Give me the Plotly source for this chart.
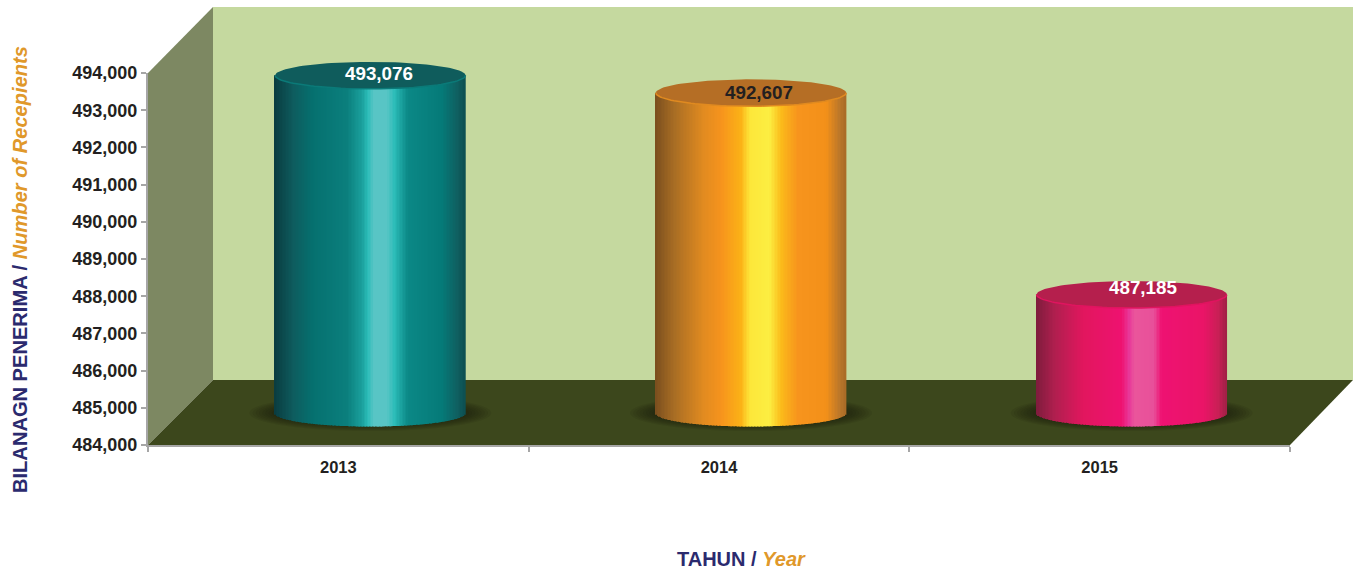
import math
import plotly.graph_objects as go

# ---- data ----
years = ["2013", "2014", "2015"]
recipients = [493076, 492607, 487185]
y_ticks = [484000, 485000, 486000, 487000, 488000, 489000, 490000, 491000, 492000, 493000, 494000]

# ---- styling ----
teal_stops = [(0, "#0a3c40"), (.1, "#0e5c5e"), (.2, "#05706f"), (.38, "#0b7f7d"), (.46, "#1a9f9c"), (.49, "#2bbcb8"),
              (.52, "#58c5c5"), (.59, "#58c5c5"), (.63, "#2bbcb8"), (.7, "#0b8886"), (.88, "#057a78"), (.96, "#0f5f60"), (1, "#0d5052")]
orange_stops = [(0, "#7a4e1e"), (.1, "#a86d24"), (.25, "#e08a20"), (.35, "#f7941d"), (.45, "#fbb216"), (.5, "#fde73a"),
                (.6, "#fcee42"), (.66, "#fbbb1a"), (.75, "#f7941d"), (.9, "#f39019"), (.97, "#b9762a"), (1, "#a96a26")]
pink_stops = [(0, "#7d1c3c"), (.1, "#b01f4f"), (.25, "#e2165e"), (.45, "#ee1270"), (.49, "#e8389a"), (.52, "#ea559b"),
              (.62, "#e8509a"), (.66, "#ee1272"), (.88, "#ea1467"), (.96, "#c81f55"), (1, "#a02045")]
body_stops = [teal_stops, orange_stops, pink_stops]
top_fill = ["#0f5c5c", "#b56e25", "#b51f4d"]
top_rim = ["#0b7a78", "#e08a20", "#e0145f"]
label_colors = ["#ffffff", "#231f20", "#ffffff"]
label_shift = [(9, 2), (8, 0), (11, 7)]

W, H = 1353, 570
X0, X1 = 148, 1290      # front plane, pixels
Y_BOTTOM, Y_TOP = 445, 73
DEPTH_BACK = 65
SHIFT = 32              # the cylinders stand half way into the floor
Y_MIN, Y_MAX = y_ticks[0], y_ticks[-1]
PX_PER_UNIT = (Y_BOTTOM - Y_TOP) / (Y_MAX - Y_MIN)
PX_PER_CAT = (X1 - X0) / 3
PAD = 1000              # hidden extra range of the shifted axis


def px(x):
    return x / W


def py(y):
    return 1 - y / H


def hex_rgb(c):
    return tuple(int(c[i:i + 2], 16) for i in (1, 3, 5))


def blend(stops, t):
    for (a, ca), (b, cb) in zip(stops, stops[1:]):
        if a <= t <= b:
            f = (t - a) / (b - a)
            ra, rb = hex_rgb(ca), hex_rgb(cb)
            return "rgb(%d,%d,%d)" % tuple(round(u + (v - u) * f) for u, v in zip(ra, rb))
    return stops[-1][1]


def poly(points, color):
    path = "M " + " L ".join(f"{px(x):.5f} {py(y):.5f}" for x, y in points) + " Z"
    return dict(type="path", xref="paper", yref="paper", path=path, fillcolor=color,
                line=dict(width=0), layer="below")


hw = 95.2 / PX_PER_CAT      # half width of a cylinder, category units
ry = 13.5 / PX_PER_UNIT     # half height of its ellipse, value units
N = 130

shapes = [
    poly([(X0, Y_TOP), (X0 + DEPTH_BACK, Y_TOP - 66), (X0 + DEPTH_BACK, Y_BOTTOM - DEPTH_BACK), (X0, Y_BOTTOM)], "#7d8862"),
    poly([(X0 + DEPTH_BACK, Y_TOP - 66), (W, Y_TOP - 66), (W, Y_BOTTOM - DEPTH_BACK), (X0 + DEPTH_BACK, Y_BOTTOM - DEPTH_BACK)], "#c5d99f"),
    poly([(X0, Y_BOTTOM), (X0 + DEPTH_BACK, Y_BOTTOM - DEPTH_BACK), (W, Y_BOTTOM - DEPTH_BACK), (X1, Y_BOTTOM)], "#3c471c"),
]
# soft shadows on the floor
for i in range(3):
    for k in range(9):
        sx = (121 - k * 3.2) / PX_PER_CAT
        sy = (18 - k * 0.9) / PX_PER_UNIT
        shapes.append(dict(type="circle", xref="x2", yref="y2", x0=i - sx, x1=i + sx,
                           y0=Y_MIN - sy, y1=Y_MIN + sy,
                           fillcolor="rgba(18,24,10,0.085)", line=dict(width=0), layer="below"))

fig = go.Figure()

# invisible trace that keeps the front axes alive
fig.add_trace(go.Scatter(x=[0, 1, 2], y=recipients, xaxis="x", yaxis="y", mode="markers",
                         marker=dict(opacity=0), hoverinfo="skip", showlegend=False))

for i, value in enumerate(recipients):
    xs, bases, heights, colors = [], [], [], []
    for s in range(N):
        t = (s + 0.5) / N
        u = 2 * t - 1
        base = Y_MIN - ry * math.sqrt(max(0, 1 - u * u))
        xs.append(i + u * hw)
        bases.append(base)
        heights.append(value - base)
        colors.append(blend(body_stops[i], t))
    fig.add_trace(go.Bar(x=xs, y=heights, base=bases, width=2 * hw / N * 1.25, xaxis="x2", yaxis="y2",
                         marker=dict(color=colors, line=dict(width=0)), hoverinfo="skip", showlegend=False))
    angles = [a * 2 * math.pi / 120 for a in range(121)]
    fig.add_trace(go.Scatter(x=[i + hw * math.cos(a) for a in angles],
                             y=[value + ry * math.sin(a) for a in angles],
                             xaxis="x2", yaxis="y2", mode="lines", fill="toself",
                             fillcolor=top_fill[i], line=dict(width=0),
                             hoverinfo="skip", showlegend=False))
    lower = [math.pi + a * math.pi / 60 for a in range(61)]
    fig.add_trace(go.Scatter(x=[i + hw * math.cos(a) for a in lower],
                             y=[value + ry * math.sin(a) for a in lower],
                             xaxis="x2", yaxis="y2", mode="lines",
                             line=dict(color=top_rim[i], width=1.5),
                             hoverinfo="skip", showlegend=False))

FONT = "Liberation Sans, Arial, sans-serif"
annotations = [
    dict(x=i, y=v, xref="x2", yref="y2", text=f"<b>{v:,}</b>", showarrow=False,
         xshift=label_shift[i][0], yshift=label_shift[i][1],
         font=dict(family=FONT, size=18.8, color=label_colors[i]))
    for i, v in enumerate(recipients)
]
annotations += [
    dict(x=px(741), y=py(559), xref="paper", yref="paper", showarrow=False, xanchor="center", yanchor="middle",
         text='<b><span style="color:#2b2a6e">TAHUN / </span><i><span style="color:#e0982a">Year</span></i></b>',
         font=dict(family=FONT, size=20)),
    dict(x=px(20), y=py(270), xref="paper", yref="paper", showarrow=False, textangle=-90, xanchor="center", yanchor="middle",
         text='<b><span style="color:#2b2a6e">BILANAGN PENERIMA / </span><i><span style="color:#e0982a">Number of Recepients</span></i></b>',
         font=dict(family=FONT, size=20.1)),
]

fig.update_layout(
    width=W, height=H, margin=dict(l=0, r=0, t=0, b=0, autoexpand=False), showlegend=False,
    paper_bgcolor="white", plot_bgcolor="rgba(0,0,0,0)", barmode="overlay",
    shapes=shapes, annotations=annotations,
    xaxis=dict(domain=[px(X0), px(X1)], range=[-0.5, 2.5], anchor="y", showgrid=False, zeroline=False, automargin=False,
               tickvals=[0, 1, 2], ticktext=years, ticks="outside", ticklen=6, tickcolor="rgba(0,0,0,0)",
               tickfont=dict(family=FONT, size=16.5, color="#231f20", weight=700),
               showline=True, linecolor="#a6a6a6", linewidth=2,
               minor=dict(tickvals=[-0.5, 0.5, 1.5, 2.5], ticks="outside", ticklen=5, tickcolor="#a6a6a6", tickwidth=2)),
    yaxis=dict(domain=[py(Y_BOTTOM), py(Y_TOP)], range=[Y_MIN, Y_MAX], anchor="x", showgrid=False, zeroline=False, automargin=False,
               tickvals=y_ticks, tickformat=",", ticks="outside", ticklen=5, tickcolor="#a6a6a6", tickwidth=2,
               tickfont=dict(family=FONT, size=18, color="#231f20", weight=700),
               showline=True, linecolor="#a6a6a6", linewidth=2),
    xaxis2=dict(domain=[px(X0 + SHIFT), px(X1 + SHIFT)], range=[-0.5, 2.5], anchor="y2", visible=False, automargin=False),
    yaxis2=dict(domain=[py(Y_BOTTOM - SHIFT + PAD * PX_PER_UNIT), py(Y_TOP - SHIFT - PAD * PX_PER_UNIT)],
                range=[Y_MIN - PAD, Y_MAX + PAD], anchor="x2", visible=False, automargin=False),
)

fig.write_html("out.html", config=dict(displayModeBar=False),
               post_script="document.body.style.margin='0';document.body.style.overflow='hidden';")
